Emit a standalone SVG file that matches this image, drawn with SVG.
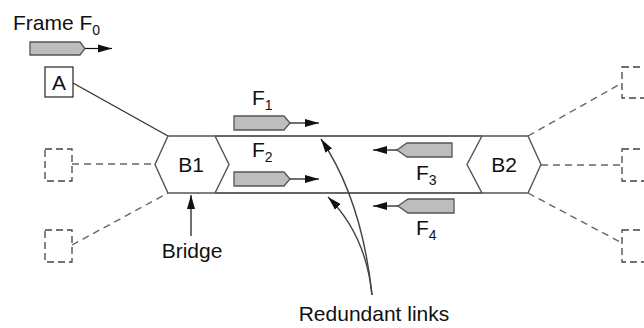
<svg xmlns="http://www.w3.org/2000/svg" width="644" height="328" viewBox="0 0 644 328">
<defs>
<style>
text{font-family:"Liberation Sans",Arial,sans-serif;fill:#111;}
.lbl{font-size:21px;}
.sub{font-size:14px;}
.hex{fill:#fff;stroke:#555;stroke-width:1.4;}
.link{stroke:#333;stroke-width:1.4;fill:none;}
.dash{stroke:#666;stroke-width:1.4;fill:none;stroke-dasharray:7 5;}
.dbox{stroke:#444;stroke-width:1.3;fill:none;stroke-dasharray:7 4;}
.frame{fill:#bdbdbd;stroke:#555;stroke-width:1.3;}
.arr{stroke:#111;stroke-width:1.2;fill:none;marker-end:url(#ah);}
.curve{stroke:#444;stroke-width:1.4;fill:none;marker-end:url(#ah);}
</style>
<marker id="ah" markerUnits="userSpaceOnUse" markerWidth="14" markerHeight="10" viewBox="0 0 14 10" refX="14" refY="5" orient="auto">
<path d="M0,1 L14,5 L0,9 Z" fill="#111"/>
</marker>
</defs>

<g id="connectors">
<line class="link" x1="73" y1="83" x2="168" y2="136"/>
<line class="link" x1="215" y1="136" x2="482" y2="136"/>
<line class="link" x1="215" y1="193" x2="482" y2="193"/>
<line class="dash" x1="72" y1="164" x2="155" y2="164"/>
<line class="dash" x1="72" y1="245" x2="168" y2="193"/>
<line class="dash" x1="528" y1="136" x2="622" y2="83"/>
<line class="dash" x1="541" y1="165" x2="622" y2="165"/>
<line class="dash" x1="528" y1="193" x2="622" y2="243"/>
<line class="arr" x1="191" y1="236" x2="191" y2="195"/>
<path class="curve" d="M372,295 Q362,200 321,139"/>
<path class="curve" d="M372,295 Q366,235 328,197"/>
</g>

<g id="frameF0">
<text class="lbl" x="13" y="30">Frame F<tspan class="sub" dy="5">0</tspan></text>
<path class="frame" d="M30,42 H80 L85,48.5 L80,55 H30 Z"/>
<line class="arr" x1="85" y1="48.5" x2="112" y2="48.5"/>
</g>

<g id="nodeA">
<rect x="45" y="67" width="28" height="30" fill="#fff" stroke="#333" stroke-width="1.3"/>
<text class="lbl" x="59" y="90" text-anchor="middle">A</text>
</g>

<g id="lanL1"><rect class="dbox" x="45" y="149" width="27" height="32"/></g>
<g id="lanL2"><rect class="dbox" x="45" y="230" width="27" height="32"/></g>
<g id="lanR1"><rect class="dbox" x="622" y="67" width="30" height="31"/></g>
<g id="lanR2"><rect class="dbox" x="622" y="149" width="30" height="32"/></g>
<g id="lanR3"><rect class="dbox" x="622" y="230" width="30" height="32"/></g>

<g id="B1">
<polygon class="hex" points="168,136 215,136 229,164.5 215,193 168,193 155,164.5"/>
<text class="lbl" x="191" y="172" text-anchor="middle">B1</text>
</g>

<g id="B2">
<polygon class="hex" points="482,136 528,136 541,164.5 528,193 482,193 467,164.5"/>
<text class="lbl" x="504" y="172" text-anchor="middle">B2</text>
</g>

<g id="F1">
<text class="lbl" x="252" y="105">F<tspan class="sub" dy="5">1</tspan></text>
<path class="frame" d="M234,116 H284 L290,123 L284,130 H234 Z"/>
<line class="arr" x1="290" y1="123" x2="319" y2="123"/>
</g>

<g id="F2">
<text class="lbl" x="252" y="157">F<tspan class="sub" dy="5">2</tspan></text>
<path class="frame" d="M234,172 H284 L290,179 L284,186 H234 Z"/>
<line class="arr" x1="290" y1="179" x2="319" y2="179"/>
</g>

<g id="F3">
<path class="frame" d="M452,143 H407 L397,150 L407,157 H452 Z"/>
<line class="arr" x1="397" y1="150" x2="373" y2="150"/>
<text class="lbl" x="416" y="180">F<tspan class="sub" dy="5">3</tspan></text>
</g>

<g id="F4">
<path class="frame" d="M454,199 H408 L398,206 L408,213 H454 Z"/>
<line class="arr" x1="398" y1="206" x2="373" y2="206"/>
<text class="lbl" x="416" y="235">F<tspan class="sub" dy="5">4</tspan></text>
</g>

<g id="bridgeLabel">
<text class="lbl" x="192" y="258" text-anchor="middle">Bridge</text>
</g>

<g id="redundantLabel">
<text class="lbl" x="374" y="321" text-anchor="middle">Redundant links</text>
</g>
</svg>
